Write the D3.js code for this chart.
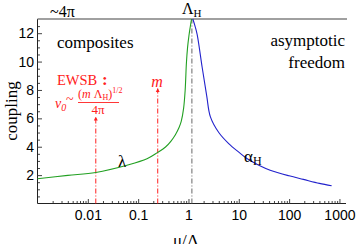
<!DOCTYPE html>
<html>
<head>
<meta charset="utf-8">
<script src="https://cdn.jsdelivr.net/npm/d3@7"></script>
<style>
  body { margin: 0; background: #fff; }
  svg { display: block; }
  .tick text { font-family: "Liberation Sans", Arial, sans-serif; font-size: 14px; fill: #000; }
  .serif { font-family: "Liberation Serif", "Times New Roman", serif; }
</style>
</head>
<body>
<svg id="svg" width="357" height="244"></svg>
<script>
// running couplings
var lamMu  = [0.001, 0.004, 0.0144, 0.06, 0.15, 0.245, 0.35, 0.45, 0.55, 0.65, 0.72, 0.8, 0.86, 0.91, 0.96, 1.02, 1.08, 1.15];
var lamVal = [1.74, 1.98, 2.19, 2.7, 3.15, 3.6, 3.98, 4.4, 4.85, 5.35, 5.8, 6.7, 8.0, 9.9, 11.0, 11.8, 12.4, 13.0];
var alphaMu  = [1.22, 1.35, 1.49, 1.87, 2.3, 2.73, 4.0, 6.3, 10, 14.5, 25, 42, 100, 192, 400, 700];
var alphaVal = [13.0, 12.5, 11.9, 9.6, 7.6, 6.1, 5.0, 4.22, 3.62, 3.17, 2.7, 2.35, 1.95, 1.70, 1.42, 1.25];

var xMajor = [0.01, 0.1, 1, 10, 100, 1000];
var xMajorLabels = ["0.01", "0.1", "1", "10", "100", "1000"];
var yMajor = [2, 4, 6, 8, 10, 12];

var lambdaH = 1.17;          // dash-dot line at the pole
var arrowMu  = [0.0144, 0.245];   // EWSB scale, m
var arrowTop = [6.1, 8.1];

var svg = d3.select("#svg");
var x = d3.scaleLog().domain([0.001, 1350]).range([37.5, 346]);
var y = d3.scaleLinear().domain([0, 13]).range([203.5, 19]);

// minor ticks
var xMinor = [];
for (var e = -3; e <= 3; e++) {
  for (var k = 2; k <= 9; k++) {
    var v = k * Math.pow(10, e);
    if (v < 1350) xMinor.push(v);
  }
}
var yMinor = d3.range(0.5, 13, 0.5).filter(function(d){ return d % 2 !== 0; });

svg.append("g").attr("transform", "translate(0,203.5)")
  .call(d3.axisBottom(x).tickValues(xMinor).tickFormat("").tickSizeInner(-2.5).tickSizeOuter(0))
  .call(function(g){ g.select(".domain").remove(); g.selectAll("line").attr("stroke", "#444"); });
svg.append("g").attr("transform", "translate(37.5,0)")
  .call(d3.axisLeft(y).tickValues(yMinor).tickFormat("").tickSizeInner(-2.5).tickSizeOuter(0))
  .call(function(g){ g.select(".domain").remove(); g.selectAll("line").attr("stroke", "#444"); });

svg.append("g").attr("transform", "translate(0,203.5)")
  .call(d3.axisBottom(x).tickValues(xMajor).tickFormat(function(d, i){ return xMajorLabels[i]; })
        .tickSizeInner(-4.5).tickSizeOuter(0).tickPadding(7))
  .call(function(g){ g.select(".domain").attr("d", "M37.5,0H346").attr("stroke", "#222"); g.selectAll("line").attr("stroke", "#444"); });
svg.append("g").attr("transform", "translate(37.5,0)")
  .call(d3.axisLeft(y).tickValues(yMajor).tickSizeInner(-4.5).tickSizeOuter(0).tickPadding(3.5))
  .call(function(g){ g.select(".domain").attr("d", "M0,19V203.5").attr("stroke", "#222"); g.selectAll("line").attr("stroke", "#444"); });

// ~4pi ceiling
svg.append("line").attr("x1", 37.5).attr("x2", 347).attr("y1", y(13)).attr("y2", y(13))
  .attr("stroke", "#808080").attr("stroke-width", 1.6);

// pole marker
svg.append("line").attr("x1", x(lambdaH)).attr("x2", x(lambdaH)).attr("y1", y(0)).attr("y2", y(13))
  .attr("stroke", "#666").attr("stroke-width", 1).attr("stroke-dasharray", "5,2,1,2");

// red arrows
svg.append("defs").append("marker").attr("id", "arr").attr("viewBox", "0 0 10 10")
  .attr("refX", 9).attr("refY", 5).attr("markerWidth", 4).attr("markerHeight", 6)
  .attr("markerUnits", "userSpaceOnUse").attr("orient", "auto")
  .append("path").attr("d", "M0,0L10,5L0,10z").attr("fill", "#ff2020");
arrowMu.forEach(function(m, i){
  svg.append("line").attr("x1", x(m)).attr("x2", x(m)).attr("y1", y(0)).attr("y2", y(arrowTop[i]))
    .attr("stroke", "#ff2020").attr("stroke-width", 1).attr("stroke-dasharray", "5,2,1,2")
    .attr("marker-end", "url(#arr)");
});

// curves
var line = d3.line().x(function(d){ return x(d[0]); }).y(function(d){ return y(d[1]); })
  .curve(d3.curveCatmullRom.alpha(0.5));
svg.append("path").datum(d3.zip(lamMu, lamVal)).attr("d", line)
  .attr("fill", "none").attr("stroke", "#22a022").attr("stroke-width", 1.1);
svg.append("path").datum(d3.zip(alphaMu, alphaVal)).attr("d", line)
  .attr("fill", "none").attr("stroke", "#2222cc").attr("stroke-width", 1.1);

// labels
function txt(xp, yp, s, size, anchor, color) {
  return svg.append("text").attr("class", "serif").attr("x", xp).attr("y", yp)
    .attr("font-size", size).attr("text-anchor", anchor || "start").attr("fill", color || "#000").text(s);
}
txt(50, 17, "~4\u03c0", 16);
var lh = txt(182, 14, "\u039b", 16);
lh.append("tspan").attr("font-size", 11).attr("dy", 3).text("H");
txt(57, 48, "composites", 17);
txt(345, 46, "asymptotic", 17, "end");
txt(345, 68, "freedom", 17, "end");
txt(118, 167, "\u03bb", 17);
var ah = txt(244, 162, "\u03b1", 17);
ah.append("tspan").attr("font-size", 12).attr("dy", 3).text("H");

svg.append("text").attr("class", "serif").attr("font-size", 17)
  .attr("transform", "translate(17,111) rotate(-90)").attr("text-anchor", "middle").text("coupling");
svg.append("text").attr("class", "serif").attr("font-size", 17)
  .attr("x", 186).attr("y", 246).attr("text-anchor", "middle").text("\u03bc/\u039b");

// red EWSB annotation
var red = "#ff2020";
txt(57, 85, "EWSB", 14.5, "start", red);
txt(102, 85, ":", 17, "start", red).attr("font-weight", "bold");
var v0 = txt(55, 108, "v", 14, "start", red).attr("font-style", "italic");
v0.append("tspan").attr("font-size", 10).attr("dy", 3).text("0");
txt(66, 104, "~", 14, "start", red);
var num = txt(78, 98, "(", 12, "start", red);
num.append("tspan").attr("font-style", "italic").text("m");
num.append("tspan").text(" \u039b");
num.append("tspan").attr("font-size", 8).attr("dy", 2).text("H");
num.append("tspan").attr("font-size", 12).attr("dy", -2).text(")");
num.append("tspan").attr("font-size", 8).attr("dy", -5).text("1/2");
svg.append("line").attr("x1", 78).attr("x2", 119).attr("y1", 102.5).attr("y2", 102.5)
  .attr("stroke", red).attr("stroke-width", 0.9);
txt(98, 114, "4\u03c0", 13, "middle", red);
txt(157, 87, "m", 16, "middle", red).attr("font-style", "italic");
</script>
</body>
</html>
